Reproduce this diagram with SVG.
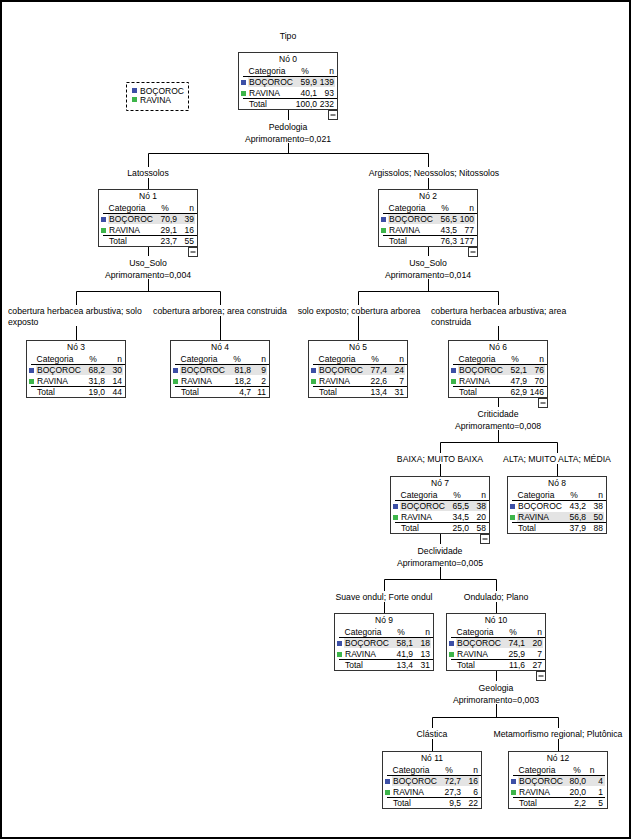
<svg xmlns="http://www.w3.org/2000/svg" width="632" height="840" viewBox="0 0 632 840">
<defs>
<style>
.t{font-family:"Liberation Sans",Arial,Helvetica,sans-serif;font-size:8.5px;fill:#000}
.lb{font-size:8.7px}
.m{text-anchor:middle}
.e{text-anchor:end}
.box{fill:#fff;stroke:#333;stroke-width:1}
.ul{stroke:#000;stroke-width:1}
.sh{fill:#e4e4e4}
.sb{fill:#3c4fa6}
.sg{fill:#3db54a}
.btn{fill:#fff;stroke:#333;stroke-width:1}
.cn{fill:none;stroke:#000;stroke-width:1}
</style>
</defs>
<rect x="0" y="0" width="632" height="840" fill="#fff"/>
<rect x="1" y="1" width="629" height="837" fill="none" stroke="#000" stroke-width="2"/>

<text class="t lb m" x="288" y="39">Tipo</text>

<g id="legend">
<rect x="126.5" y="82.5" width="62" height="28" fill="none" stroke="#000" stroke-dasharray="3,2"/>
<rect class="sb" x="132" y="88" width="5" height="5"/>
<text class="t" x="140" y="94">BOÇOROC</text>
<rect class="sg" x="132" y="97" width="5" height="5"/>
<text class="t" x="140" y="103">RAVINA</text>
</g>

<g id="connectors">
<path class="cn" d="M288.5,110V120M288.5,143V153.5M148.5,153.5H428.5M148.5,153.5V167M148.5,178V189M428.5,153.5V167M428.5,178V189"/>
<path class="cn" d="M148.5,247V256M148.5,279V291.5M76.5,291.5H220.5M76.5,291.5V305M76.5,326V340M220.5,291.5V305M220.5,316V340"/>
<path class="cn" d="M428.5,247V256M428.5,279V291.5M358.5,291.5H498.5M358.5,291.5V305M358.5,316V340M498.5,291.5V305M498.5,326V340"/>
<path class="cn" d="M498.5,398V407M498.5,430V442.5M440.5,442.5H557.5M440.5,442.5V453M440.5,464V476M557.5,442.5V453M557.5,464V476"/>
<path class="cn" d="M440.5,534V544M440.5,567V579.5M384.5,579.5H496.5M384.5,579.5V591M384.5,602V613M496.5,579.5V591M496.5,602V613"/>
<path class="cn" d="M496.5,671V681M496.5,704V717.5M432.5,717.5H558.5M432.5,717.5V728M432.5,739V751M558.5,717.5V728M558.5,739V751"/>
</g>

<g id="labels">
<text class="t lb m" x="288" y="130">Pedologia</text>
<text class="t lb m" x="288" y="142">Aprimoramento=0,021</text>
<text class="t lb m" x="148" y="176">Latossolos</text>
<text class="t lb m" x="434" y="176">Argissolos; Neossolos; Nitossolos</text>
<text class="t lb m" x="148" y="266">Uso_Solo</text>
<text class="t lb m" x="148" y="278">Aprimoramento=0,004</text>
<text class="t lb m" x="428" y="266">Uso_Solo</text>
<text class="t lb m" x="428" y="278">Aprimoramento=0,014</text>
<text class="t lb" x="8" y="314">cobertura herbacea arbustiva; solo</text>
<text class="t lb" x="8" y="325">exposto</text>
<text class="t lb m" x="220" y="314">cobertura arborea; area construida</text>
<text class="t lb m" x="359" y="314">solo exposto; cobertura arborea</text>
<text class="t lb" x="431" y="314">cobertura herbacea arbustiva; area</text>
<text class="t lb" x="431" y="325">construida</text>
<text class="t lb m" x="498" y="417">Criticidade</text>
<text class="t lb m" x="498" y="429">Aprimoramento=0,008</text>
<text class="t lb m" x="440" y="462">BAIXA; MUITO BAIXA</text>
<text class="t lb m" x="557" y="462">ALTA; MUITO ALTA; MÉDIA</text>
<text class="t lb m" x="440" y="554">Declividade</text>
<text class="t lb m" x="440" y="566">Aprimoramento=0,005</text>
<text class="t lb m" x="384" y="600">Suave ondul; Forte ondul</text>
<text class="t lb m" x="496" y="600">Ondulado; Plano</text>
<text class="t lb m" x="496" y="691">Geologia</text>
<text class="t lb m" x="496" y="703">Aprimoramento=0,003</text>
<text class="t lb m" x="432" y="737">Clástica</text>
<text class="t lb m" x="558" y="737">Metamorfismo regional; Plutônica</text>
</g>

<g id="node0" transform="translate(238,52)">
<rect class="box" x="0.5" y="0.5" width="99" height="57"/>
<rect class="sh" x="10" y="25" width="87" height="10"/>
<text class="t m" x="50" y="10">Nó 0</text>
<text class="t m" x="29" y="22">Categoria</text><text class="t m" x="67" y="22">%</text><text class="t e" x="96" y="22">n</text>
<line class="ul" x1="5" y1="24.5" x2="99" y2="24.5"/>
<rect class="sb" x="3" y="28" width="5" height="5"/><text class="t" x="11" y="33">BOÇOROC</text><text class="t e" x="79" y="33">59,9</text><text class="t e" x="96" y="33">139</text>
<rect class="sg" x="3" y="39" width="5" height="5"/><text class="t" x="11" y="44">RAVINA</text><text class="t e" x="79" y="44">40,1</text><text class="t e" x="96" y="44">93</text>
<line class="ul" x1="5" y1="46.5" x2="99" y2="46.5"/>
<text class="t" x="11" y="55">Total</text><text class="t e" x="79" y="55">100,0</text><text class="t e" x="96" y="55">232</text>
<rect class="btn" x="90.5" y="58.5" width="9" height="9"/><line class="ul" x1="92.5" y1="63" x2="97.5" y2="63"/>
</g>

<g id="node1" transform="translate(98,189)">
<rect class="box" x="0.5" y="0.5" width="99" height="57"/>
<rect class="sh" x="10" y="25" width="87" height="10"/>
<text class="t m" x="50" y="10">Nó 1</text>
<text class="t m" x="29" y="22">Categoria</text><text class="t m" x="67" y="22">%</text><text class="t e" x="96" y="22">n</text>
<line class="ul" x1="5" y1="24.5" x2="99" y2="24.5"/>
<rect class="sb" x="3" y="28" width="5" height="5"/><text class="t" x="11" y="33">BOÇOROC</text><text class="t e" x="79" y="33">70,9</text><text class="t e" x="96" y="33">39</text>
<rect class="sg" x="3" y="39" width="5" height="5"/><text class="t" x="11" y="44">RAVINA</text><text class="t e" x="79" y="44">29,1</text><text class="t e" x="96" y="44">16</text>
<line class="ul" x1="5" y1="46.5" x2="99" y2="46.5"/>
<text class="t" x="11" y="55">Total</text><text class="t e" x="79" y="55">23,7</text><text class="t e" x="96" y="55">55</text>
<rect class="btn" x="90.5" y="58.5" width="9" height="9"/><line class="ul" x1="92.5" y1="63" x2="97.5" y2="63"/>
</g>

<g id="node2" transform="translate(378,189)">
<rect class="box" x="0.5" y="0.5" width="99" height="57"/>
<rect class="sh" x="10" y="25" width="87" height="10"/>
<text class="t m" x="50" y="10">Nó 2</text>
<text class="t m" x="29" y="22">Categoria</text><text class="t m" x="67" y="22">%</text><text class="t e" x="96" y="22">n</text>
<line class="ul" x1="5" y1="24.5" x2="99" y2="24.5"/>
<rect class="sb" x="3" y="28" width="5" height="5"/><text class="t" x="11" y="33">BOÇOROC</text><text class="t e" x="79" y="33">56,5</text><text class="t e" x="96" y="33">100</text>
<rect class="sg" x="3" y="39" width="5" height="5"/><text class="t" x="11" y="44">RAVINA</text><text class="t e" x="79" y="44">43,5</text><text class="t e" x="96" y="44">77</text>
<line class="ul" x1="5" y1="46.5" x2="99" y2="46.5"/>
<text class="t" x="11" y="55">Total</text><text class="t e" x="79" y="55">76,3</text><text class="t e" x="96" y="55">177</text>
<rect class="btn" x="90.5" y="58.5" width="9" height="9"/><line class="ul" x1="92.5" y1="63" x2="97.5" y2="63"/>
</g>

<g id="node3" transform="translate(26,340)">
<rect class="box" x="0.5" y="0.5" width="99" height="57"/>
<rect class="sh" x="10" y="25" width="87" height="10"/>
<text class="t m" x="50" y="10">Nó 3</text>
<text class="t m" x="29" y="22">Categoria</text><text class="t m" x="67" y="22">%</text><text class="t e" x="96" y="22">n</text>
<line class="ul" x1="5" y1="24.5" x2="99" y2="24.5"/>
<rect class="sb" x="3" y="28" width="5" height="5"/><text class="t" x="11" y="33">BOÇOROC</text><text class="t e" x="79" y="33">68,2</text><text class="t e" x="96" y="33">30</text>
<rect class="sg" x="3" y="39" width="5" height="5"/><text class="t" x="11" y="44">RAVINA</text><text class="t e" x="79" y="44">31,8</text><text class="t e" x="96" y="44">14</text>
<line class="ul" x1="5" y1="46.5" x2="99" y2="46.5"/>
<text class="t" x="11" y="55">Total</text><text class="t e" x="79" y="55">19,0</text><text class="t e" x="96" y="55">44</text>
</g>

<g id="node4" transform="translate(170,340)">
<rect class="box" x="0.5" y="0.5" width="99" height="57"/>
<rect class="sh" x="10" y="25" width="87" height="10"/>
<text class="t m" x="50" y="10">Nó 4</text>
<text class="t m" x="29" y="22">Categoria</text><text class="t m" x="67" y="22">%</text><text class="t e" x="96" y="22">n</text>
<line class="ul" x1="5" y1="24.5" x2="99" y2="24.5"/>
<rect class="sb" x="3" y="28" width="5" height="5"/><text class="t" x="11" y="33">BOÇOROC</text><text class="t e" x="81" y="33">81,8</text><text class="t e" x="96" y="33">9</text>
<rect class="sg" x="3" y="39" width="5" height="5"/><text class="t" x="11" y="44">RAVINA</text><text class="t e" x="81" y="44">18,2</text><text class="t e" x="96" y="44">2</text>
<line class="ul" x1="5" y1="46.5" x2="99" y2="46.5"/>
<text class="t" x="11" y="55">Total</text><text class="t e" x="81" y="55">4,7</text><text class="t e" x="96" y="55">11</text>
</g>

<g id="node5" transform="translate(308,340)">
<rect class="box" x="0.5" y="0.5" width="99" height="57"/>
<rect class="sh" x="10" y="25" width="87" height="10"/>
<text class="t m" x="50" y="10">Nó 5</text>
<text class="t m" x="29" y="22">Categoria</text><text class="t m" x="67" y="22">%</text><text class="t e" x="96" y="22">n</text>
<line class="ul" x1="5" y1="24.5" x2="99" y2="24.5"/>
<rect class="sb" x="3" y="28" width="5" height="5"/><text class="t" x="11" y="33">BOÇOROC</text><text class="t e" x="79" y="33">77,4</text><text class="t e" x="96" y="33">24</text>
<rect class="sg" x="3" y="39" width="5" height="5"/><text class="t" x="11" y="44">RAVINA</text><text class="t e" x="79" y="44">22,6</text><text class="t e" x="96" y="44">7</text>
<line class="ul" x1="5" y1="46.5" x2="99" y2="46.5"/>
<text class="t" x="11" y="55">Total</text><text class="t e" x="79" y="55">13,4</text><text class="t e" x="96" y="55">31</text>
</g>

<g id="node6" transform="translate(448,340)">
<rect class="box" x="0.5" y="0.5" width="99" height="57"/>
<rect class="sh" x="10" y="25" width="87" height="10"/>
<text class="t m" x="50" y="10">Nó 6</text>
<text class="t m" x="29" y="22">Categoria</text><text class="t m" x="67" y="22">%</text><text class="t e" x="96" y="22">n</text>
<line class="ul" x1="5" y1="24.5" x2="99" y2="24.5"/>
<rect class="sb" x="3" y="28" width="5" height="5"/><text class="t" x="11" y="33">BOÇOROC</text><text class="t e" x="79" y="33">52,1</text><text class="t e" x="96" y="33">76</text>
<rect class="sg" x="3" y="39" width="5" height="5"/><text class="t" x="11" y="44">RAVINA</text><text class="t e" x="79" y="44">47,9</text><text class="t e" x="96" y="44">70</text>
<line class="ul" x1="5" y1="46.5" x2="99" y2="46.5"/>
<text class="t" x="11" y="55">Total</text><text class="t e" x="79" y="55">62,9</text><text class="t e" x="96" y="55">146</text>
<rect class="btn" x="90.5" y="58.5" width="9" height="9"/><line class="ul" x1="92.5" y1="63" x2="97.5" y2="63"/>
</g>

<g id="node7" transform="translate(390,476)">
<rect class="box" x="0.5" y="0.5" width="99" height="57"/>
<rect class="sh" x="10" y="25" width="87" height="10"/>
<text class="t m" x="50" y="10">Nó 7</text>
<text class="t m" x="29" y="22">Categoria</text><text class="t m" x="67" y="22">%</text><text class="t e" x="96" y="22">n</text>
<line class="ul" x1="5" y1="24.5" x2="99" y2="24.5"/>
<rect class="sb" x="3" y="28" width="5" height="5"/><text class="t" x="11" y="33">BOÇOROC</text><text class="t e" x="79" y="33">65,5</text><text class="t e" x="96" y="33">38</text>
<rect class="sg" x="3" y="39" width="5" height="5"/><text class="t" x="11" y="44">RAVINA</text><text class="t e" x="79" y="44">34,5</text><text class="t e" x="96" y="44">20</text>
<line class="ul" x1="5" y1="46.5" x2="99" y2="46.5"/>
<text class="t" x="11" y="55">Total</text><text class="t e" x="79" y="55">25,0</text><text class="t e" x="96" y="55">58</text>
<rect class="btn" x="90.5" y="58.5" width="9" height="9"/><line class="ul" x1="92.5" y1="63" x2="97.5" y2="63"/>
</g>

<g id="node8" transform="translate(507,476)">
<rect class="box" x="0.5" y="0.5" width="99" height="57"/>
<rect class="sh" x="10" y="36" width="87" height="10"/>
<text class="t m" x="50" y="10">Nó 8</text>
<text class="t m" x="29" y="22">Categoria</text><text class="t m" x="67" y="22">%</text><text class="t e" x="96" y="22">n</text>
<line class="ul" x1="5" y1="24.5" x2="99" y2="24.5"/>
<rect class="sb" x="3" y="28" width="5" height="5"/><text class="t" x="11" y="33">BOÇOROC</text><text class="t e" x="79" y="33">43,2</text><text class="t e" x="96" y="33">38</text>
<rect class="sg" x="3" y="39" width="5" height="5"/><text class="t" x="11" y="44">RAVINA</text><text class="t e" x="79" y="44">56,8</text><text class="t e" x="96" y="44">50</text>
<line class="ul" x1="5" y1="46.5" x2="99" y2="46.5"/>
<text class="t" x="11" y="55">Total</text><text class="t e" x="79" y="55">37,9</text><text class="t e" x="96" y="55">88</text>
</g>

<g id="node9" transform="translate(334,613)">
<rect class="box" x="0.5" y="0.5" width="99" height="57"/>
<rect class="sh" x="10" y="25" width="87" height="10"/>
<text class="t m" x="50" y="10">Nó 9</text>
<text class="t m" x="29" y="22">Categoria</text><text class="t m" x="67" y="22">%</text><text class="t e" x="96" y="22">n</text>
<line class="ul" x1="5" y1="24.5" x2="99" y2="24.5"/>
<rect class="sb" x="3" y="28" width="5" height="5"/><text class="t" x="11" y="33">BOÇOROC</text><text class="t e" x="79" y="33">58,1</text><text class="t e" x="96" y="33">18</text>
<rect class="sg" x="3" y="39" width="5" height="5"/><text class="t" x="11" y="44">RAVINA</text><text class="t e" x="79" y="44">41,9</text><text class="t e" x="96" y="44">13</text>
<line class="ul" x1="5" y1="46.5" x2="99" y2="46.5"/>
<text class="t" x="11" y="55">Total</text><text class="t e" x="79" y="55">13,4</text><text class="t e" x="96" y="55">31</text>
</g>

<g id="node10" transform="translate(446,613)">
<rect class="box" x="0.5" y="0.5" width="99" height="57"/>
<rect class="sh" x="10" y="25" width="87" height="10"/>
<text class="t m" x="50" y="10">Nó 10</text>
<text class="t m" x="29" y="22">Categoria</text><text class="t m" x="67" y="22">%</text><text class="t e" x="96" y="22">n</text>
<line class="ul" x1="5" y1="24.5" x2="99" y2="24.5"/>
<rect class="sb" x="3" y="28" width="5" height="5"/><text class="t" x="11" y="33">BOÇOROC</text><text class="t e" x="79" y="33">74,1</text><text class="t e" x="96" y="33">20</text>
<rect class="sg" x="3" y="39" width="5" height="5"/><text class="t" x="11" y="44">RAVINA</text><text class="t e" x="79" y="44">25,9</text><text class="t e" x="96" y="44">7</text>
<line class="ul" x1="5" y1="46.5" x2="99" y2="46.5"/>
<text class="t" x="11" y="55">Total</text><text class="t e" x="79" y="55">11,6</text><text class="t e" x="96" y="55">27</text>
<rect class="btn" x="90.5" y="58.5" width="9" height="9"/><line class="ul" x1="92.5" y1="63" x2="97.5" y2="63"/>
</g>

<g id="node11" transform="translate(382,751)">
<rect class="box" x="0.5" y="0.5" width="99" height="57"/>
<rect class="sh" x="10" y="25" width="87" height="10"/>
<text class="t m" x="50" y="10">Nó 11</text>
<text class="t m" x="29" y="22">Categoria</text><text class="t m" x="67" y="22">%</text><text class="t e" x="96" y="22">n</text>
<line class="ul" x1="5" y1="24.5" x2="99" y2="24.5"/>
<rect class="sb" x="3" y="28" width="5" height="5"/><text class="t" x="11" y="33">BOÇOROC</text><text class="t e" x="79" y="33">72,7</text><text class="t e" x="96" y="33">16</text>
<rect class="sg" x="3" y="39" width="5" height="5"/><text class="t" x="11" y="44">RAVINA</text><text class="t e" x="79" y="44">27,3</text><text class="t e" x="96" y="44">6</text>
<line class="ul" x1="5" y1="46.5" x2="99" y2="46.5"/>
<text class="t" x="11" y="55">Total</text><text class="t e" x="79" y="55">9,5</text><text class="t e" x="96" y="55">22</text>
</g>

<g id="node12" transform="translate(508,751)">
<rect class="box" x="0.5" y="0.5" width="99" height="57"/>
<rect class="sh" x="10" y="25" width="87" height="10"/>
<text class="t m" x="50" y="10">Nó 12</text>
<text class="t m" x="29" y="22">Categoria</text><text class="t m" x="69" y="22">%</text><text class="t m" x="84" y="22">n</text>
<line class="ul" x1="5" y1="24.5" x2="97" y2="24.5"/>
<rect class="sb" x="3" y="28" width="5" height="5"/><text class="t" x="11" y="33">BOÇOROC</text><text class="t e" x="78" y="33">80,0</text><text class="t e" x="95" y="33">4</text>
<rect class="sg" x="3" y="39" width="5" height="5"/><text class="t" x="11" y="44">RAVINA</text><text class="t e" x="78" y="44">20,0</text><text class="t e" x="95" y="44">1</text>
<line class="ul" x1="5" y1="46.5" x2="97" y2="46.5"/>
<text class="t" x="11" y="55">Total</text><text class="t e" x="78" y="55">2,2</text><text class="t e" x="95" y="55">5</text>
</g>
</svg>
